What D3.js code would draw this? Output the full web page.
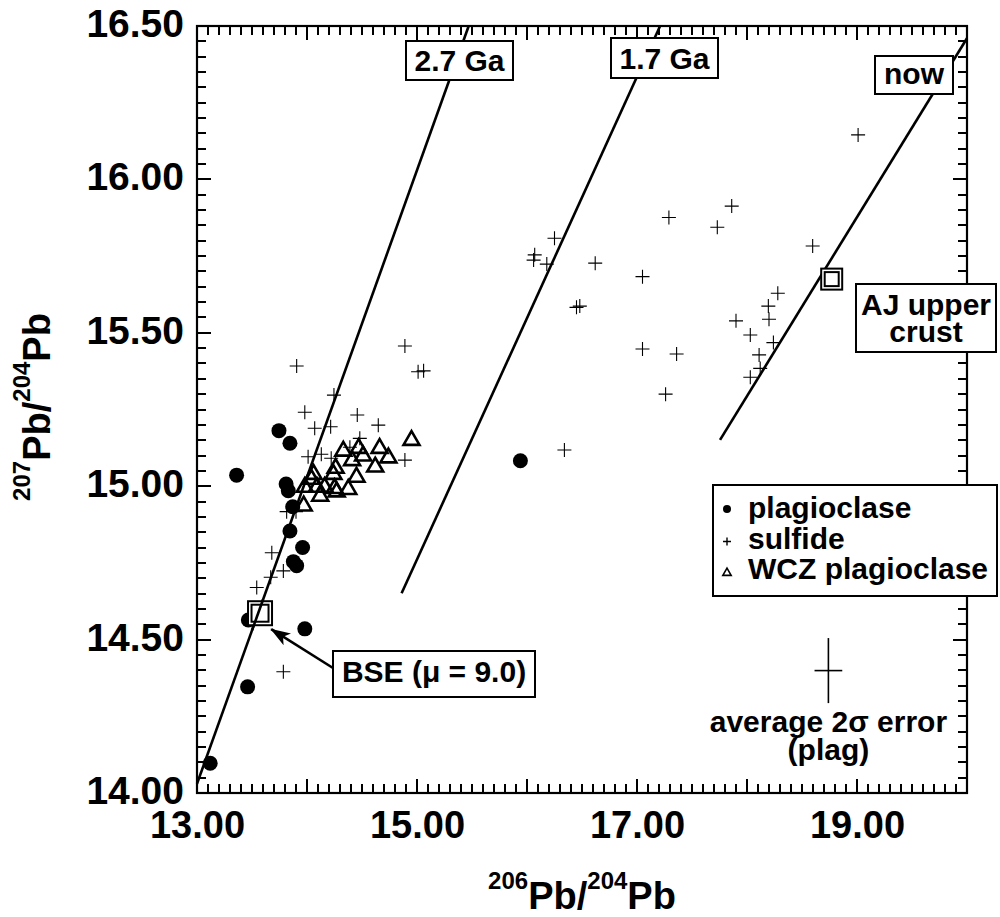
<!DOCTYPE html>
<html>
<head>
<meta charset="utf-8">
<script src="https://cdn.jsdelivr.net/npm/d3@7"></script>
<style>
  body { margin: 0; background: #fff; }
  svg text { font-family: "Liberation Sans", Arial, Helvetica, sans-serif; font-weight: bold; fill: #000; }
</style>
</head>
<body>
<div class="container"></div>
<script>
const WIDTH = 1000;
const HEIGHT = 917;
const LEFT = 197, RIGHT = 967, TOP = 26, BOTTOM = 793;

// data
var plagX = [13.12, 13.46, 13.467, 13.98, 13.876, 13.906, 13.96, 13.845, 13.87, 13.83, 13.81, 13.36, 13.745, 13.845, 15.94];
var plagY = [14.097, 14.346, 14.564, 14.535, 14.754, 14.741, 14.80, 14.854, 14.933, 14.985, 15.007, 15.036, 15.181, 15.140, 15.083];

var sulfX = [13.785, 13.543, 13.67, 13.785, 13.68, 13.815, 13.9, 14.01, 14.13, 14.22, 14.89, 14.39, 14.48, 14.648, 14.457, 14.215, 14.07, 13.98, 14.245, 13.906, 14.89, 15.01, 15.06,
             16.34, 17.26, 17.05, 17.36, 16.45, 16.48, 17.05, 16.62, 16.18, 16.06, 16.07, 16.25, 17.29, 17.73, 17.861, 18.597, 19.01,
             18.03, 18.12, 18.11, 18.24, 18.03, 17.9, 18.2, 18.194, 18.28];
var sulfY = [14.395, 14.67, 14.703, 14.724, 14.783, 14.917, 14.917, 15.096, 15.104, 15.091, 15.085, 15.127, 15.156, 15.199, 15.232, 15.194, 15.189, 15.241, 15.297, 15.392, 15.457, 15.373, 15.376,
             15.118, 15.30, 15.447, 15.431, 15.583, 15.587, 15.683, 15.727, 15.724, 15.737, 15.754, 15.808, 15.876, 15.844, 15.913, 15.783, 16.145,
             15.355, 15.384, 15.428, 15.468, 15.493, 15.539, 15.544, 15.587, 15.629];

var wczX = [13.97, 14.12, 14.27, 14.375, 14.25, 14.16, 14.09, 13.98, 14.04, 14.06, 14.45, 14.24, 14.26, 14.41, 14.51, 14.47, 14.33, 14.62, 14.74, 14.66, 14.95];
var wczY = [14.939, 14.971, 14.985, 14.993, 14.996, 15.0, 15.0, 15.0, 15.026, 15.042, 15.033, 15.042, 15.062, 15.087, 15.102, 15.127, 15.118, 15.066, 15.096, 15.127, 15.153];

// geochron lines: [x0, y0, x1, y1]
var isoNames = ["2.7 Ga", "1.7 Ga", "now"];
var isoLines = [[13.0, 14.03, 15.47, 16.5], [14.86, 14.651, 17.21, 16.5], [17.755, 15.151, 20.0, 16.46]];

var xTickLabels = [13, 15, 17, 19];
var yTickLabels = [14, 14.5, 15, 15.5, 16, 16.5];

var svg = d3.select('.container').append('svg')
    .attr('width', WIDTH)
    .attr('height', HEIGHT);

var xScale = d3.scaleLinear().domain([13, 20]).range([LEFT, RIGHT]);
var yScale = d3.scaleLinear().domain([14, 16.5]).range([BOTTOM, TOP]);

// frame
svg.append('rect')
    .attr('x', LEFT).attr('y', TOP)
    .attr('width', RIGHT - LEFT).attr('height', BOTTOM - TOP)
    .attr('fill', 'none').attr('stroke', '#000').attr('stroke-width', 2.2);

// tick labels
var xLab = svg.append('g').attr('transform', 'translate(0,' + BOTTOM + ')')
    .call(d3.axisBottom(xScale).tickValues(xTickLabels).tickSize(0).tickPadding(18).tickFormat(d3.format('.2f')));
xLab.select('.domain').remove();
xLab.selectAll('text').attr('font-size', 38).attr('font-family', null);

var yLab = svg.append('g').attr('transform', 'translate(' + LEFT + ',0)')
    .call(d3.axisLeft(yScale).tickValues(yTickLabels).tickSize(0).tickPadding(13).tickFormat(d3.format('.2f')));
yLab.select('.domain').remove();
yLab.selectAll('text').attr('font-size', 39).attr('font-family', null).attr('dy', '0.27em');

// axis titles
var xt = svg.append('text').attr('x', 582).attr('y', 909).attr('text-anchor', 'middle').attr('font-size', 38);
xt.append('tspan').attr('font-size', 24).attr('dy', -20).text('206');
xt.append('tspan').attr('dy', 20).text('Pb/');
xt.append('tspan').attr('font-size', 24).attr('dy', -20).text('204');
xt.append('tspan').attr('dy', 20).text('Pb');

var yt = svg.append('text').attr('transform', 'translate(50,407) rotate(-90)').attr('text-anchor', 'middle').attr('font-size', 38);
yt.append('tspan').attr('font-size', 24).attr('dy', -20).text('207');
yt.append('tspan').attr('dy', 20).text('Pb/');
yt.append('tspan').attr('font-size', 24).attr('dy', -20).text('204');
yt.append('tspan').attr('dy', 20).text('Pb');

var plot = svg.append('g');

// geochrons
plot.selectAll('line.iso')
    .data(isoLines)
    .enter().append('line')
    .attr('class', 'iso')
    .attr('x1', function(d){ return xScale(d[0]); })
    .attr('y1', function(d){ return yScale(d[1]); })
    .attr('x2', function(d){ return xScale(d[2]); })
    .attr('y2', function(d){ return yScale(d[3]); })
    .attr('stroke', '#000').attr('stroke-width', 2.6);

// plagioclase
plot.selectAll('circle.plag')
    .data(plagX)
    .enter().append('circle')
    .attr('cx', function(d){ return xScale(d); })
    .attr('cy', function(d, i){ return yScale(plagY[i]); })
    .attr('r', 7.5)
    .attr('fill', '#000');

// sulfide
plot.selectAll('path.sulf')
    .data(sulfX)
    .enter().append('path')
    .attr('d', 'M-7,0H7M0,-7V7')
    .attr('transform', function(d, i){ return 'translate(' + xScale(d) + ',' + yScale(sulfY[i]) + ')'; })
    .attr('stroke', '#000').attr('stroke-width', 1.1).attr('fill', 'none');

// WCZ plagioclase
var tri = d3.symbol().type(d3.symbolTriangle).size(110);
plot.selectAll('path.wcz')
    .data(wczX)
    .enter().append('path')
    .attr('d', tri)
    .attr('transform', function(d, i){ return 'translate(' + xScale(d) + ',' + (yScale(wczY[i]) + 1) + ')'; })
    .attr('stroke', '#000').attr('stroke-width', 2.6).attr('fill', 'none');

// reference points (BSE, AJ upper crust)
var refX = [13.573, 18.77];
var refY = [14.586, 15.675];
var refSize = [[24, 17], [21, 14]];
refX.forEach(function(v, i) {
    var cx = xScale(v), cy = yScale(refY[i]);
    [0, 1].forEach(function(k) {
        var s = refSize[i][k];
        plot.append('rect')
            .attr('x', cx - s/2).attr('y', cy - s/2)
            .attr('width', s).attr('height', s)
            .attr('fill', k == 0 ? '#fff' : 'none')
            .attr('stroke', '#000').attr('stroke-width', 2);
    });
});
// line through the BSE box
plot.append('line')
    .attr('x1', xScale(13.50)).attr('y1', yScale(14.53))
    .attr('x2', xScale(13.60)).attr('y2', yScale(14.63))
    .attr('stroke', '#000').attr('stroke-width', 2.6);

// inward ticks, drawn after the marks: minor every 0.1 (x) / 0.05 (y), major every 1 (x) / 0.5 (y)
var xTicks = d3.range(130, 201).map(function(d){ return {v: d / 10, len: d % 10 == 0 ? 14 : 9}; });
var yTicks = d3.range(280, 331).map(function(d){ return {v: d / 20, len: d % 10 == 0 ? 14 : 9}; });

var ticks = svg.append('g');
[[BOTTOM, -1], [TOP, 1]].forEach(function(s) {
    ticks.selectAll(null).data(xTicks).enter().append('path')
        .attr('d', function(d){ var x = Math.round(xScale(d.v)); return 'M' + x + ',' + s[0] + 'V' + (s[0] + s[1] * d.len); })
        .attr('stroke', '#000').attr('stroke-width', 2).attr('fill', 'none');
});
[[LEFT, 1], [RIGHT, -1]].forEach(function(s) {
    ticks.selectAll(null).data(yTicks).enter().append('path')
        .attr('d', function(d){ var y = Math.round(yScale(d.v)); return 'M' + s[0] + ',' + y + 'H' + (s[0] + s[1] * d.len); })
        .attr('stroke', '#000').attr('stroke-width', 2).attr('fill', 'none');
});

// labelled boxes
function labelBox(x, y, w, h, lines, baseY, lineGap) {
    var g = svg.append('g');
    g.append('rect').attr('x', x).attr('y', y).attr('width', w).attr('height', h)
        .attr('fill', '#fff').attr('stroke', '#000').attr('stroke-width', 2);
    lines.forEach(function(t, i) {
        g.append('text').attr('x', x + w/2).attr('y', baseY + i*lineGap)
            .attr('text-anchor', 'middle').attr('font-size', 30).text(t);
    });
}
labelBox(406, 41, 107, 39, [isoNames[0]], 71, 0);
labelBox(611, 38, 107, 40, [isoNames[1]], 69, 0);
labelBox(875, 56, 78, 38, [isoNames[2]], 84, 0);
labelBox(856, 284, 140, 68, ['AJ upper', 'crust'], 315, 27);
labelBox(333, 651, 202, 46, ['BSE (\u03bc = 9.0)'], 682, 0);

// arrow to BSE
svg.append('defs').append('marker')
    .attr('id', 'arrow').attr('viewBox', '0 0 20 14')
    .attr('refX', 19).attr('refY', 7)
    .attr('markerWidth', 20).attr('markerHeight', 14)
    .attr('markerUnits', 'userSpaceOnUse')
    .attr('orient', 'auto')
    .append('path').attr('d', 'M0,0L20,7L0,14L5,7Z').attr('fill', '#000');
svg.append('line')
    .attr('x1', 333).attr('y1', 668)
    .attr('x2', xScale(13.62) + 6).attr('y2', yScale(14.586) + 16)
    .attr('stroke', '#000').attr('stroke-width', 2.6)
    .attr('marker-end', 'url(#arrow)');

// legend
var legNames = ['plagioclase', 'sulfide', 'WCZ plagioclase'];
var leg = svg.append('g');
leg.append('rect').attr('x', 713).attr('y', 485).attr('width', 284).attr('height', 111)
    .attr('fill', '#fff').attr('stroke', '#000').attr('stroke-width', 2);
legNames.forEach(function(n, i) {
    var yy = 518 + i*30.5;
    leg.append('text').attr('x', 748).attr('y', yy).attr('font-size', 30).text(n);
    var sy = yy - 9;
    if (i == 0) leg.append('circle').attr('cx', 727).attr('cy', sy).attr('r', 4).attr('fill', '#000');
    if (i == 1) leg.append('path').attr('d', 'M-4,0H4M0,-4V4').attr('transform', 'translate(727,' + (sy + 2) + ')')
        .attr('stroke', '#000').attr('stroke-width', 1.4);
    if (i == 2) leg.append('path').attr('d', d3.symbol().type(d3.symbolTriangle).size(30))
        .attr('transform', 'translate(727,' + (sy + 3) + ')')
        .attr('stroke', '#000').attr('stroke-width', 1.6).attr('fill', 'none');
});

// average 2 sigma error bar
var errX = 18.74, errY = 14.399, errDx = 0.126, errDy = 0.106;
svg.append('line').attr('x1', xScale(errX - errDx)).attr('x2', xScale(errX + errDx))
    .attr('y1', yScale(errY)).attr('y2', yScale(errY)).attr('stroke', '#000').attr('stroke-width', 1.6);
svg.append('line').attr('x1', xScale(errX)).attr('x2', xScale(errX))
    .attr('y1', yScale(errY - errDy)).attr('y2', yScale(errY + errDy)).attr('stroke', '#000').attr('stroke-width', 1.6);
svg.append('text').attr('x', xScale(errX)).attr('y', 732).attr('text-anchor', 'middle').attr('font-size', 30).text('average 2\u03c3 error');
svg.append('text').attr('x', xScale(errX)).attr('y', 760).attr('text-anchor', 'middle').attr('font-size', 30).text('(plag)');
</script>
</body>
</html>
